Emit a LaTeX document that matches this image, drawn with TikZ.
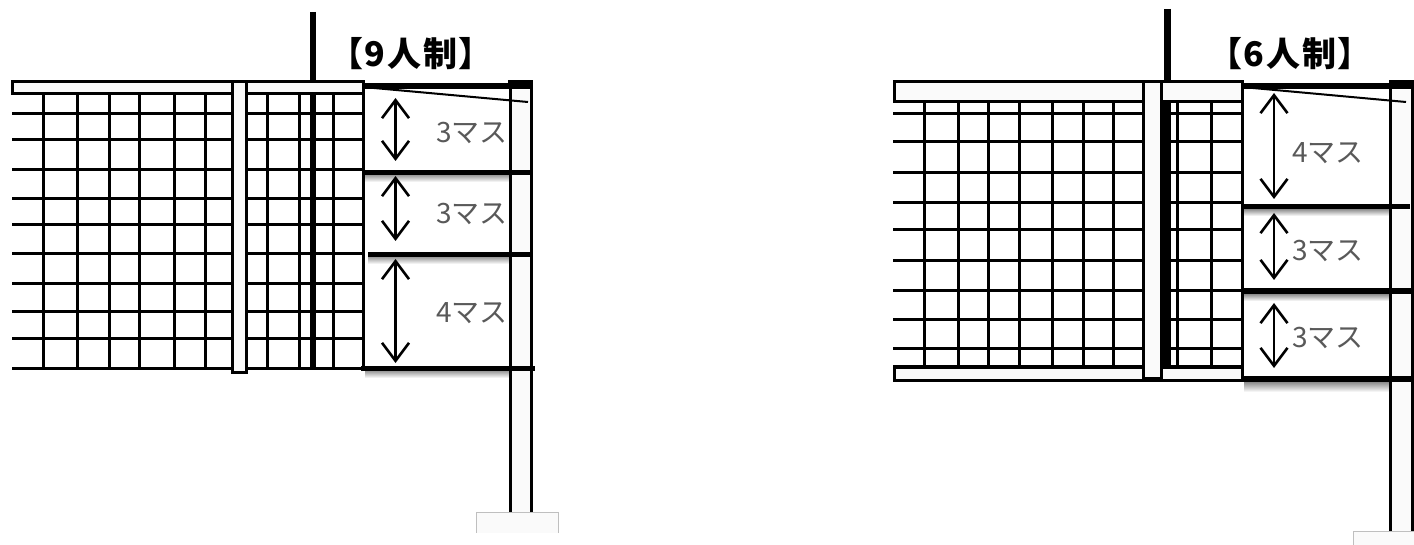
\documentclass[tikz,border=0pt]{standalone}
\usepackage{fontspec}
\newfontfamily\cjk{Noto Sans CJK JP}
\newfontfamily\cjkhead[LetterSpace=5]{Noto Sans CJK JP}
\usetikzlibrary{arrows.meta}
\definecolor{palefill}{HTML}{FAFAFA}
\tikzset{
    netline/.style={line width=3pt, black},
    thickline/.style={line width=5.5pt, black},
    palebox/.style={draw=black, line width=3pt, fill=palefill},
    gauge/.style={line width=2.6pt, <->, >={Straight Barb[length=18pt,width=27pt]}},
    masu/.style={font=\cjk\fontsize{28}{28}\selectfont, text=black!65, inner sep=0pt},
    heading/.style={font=\cjkhead\bfseries\fontsize{34}{34}\selectfont, inner sep=0pt},
    stand/.style={draw=black!25, line width=1pt, fill=palefill},
    shadowbar/.style={draw=none, top color=black!45, bottom color=white}
}
\begin{document}
\begin{tikzpicture}[x=1pt,y=-1pt]
    \useasboundingbox (0,0) rectangle (1414,545);
    % 9 players, left
    \fill[palefill] (511,90) rectangle (532,512);
    \draw[stand] (558,533) -- (558,512) -- (476,512) -- (476,533);
    \fill[palefill] (477,513) rectangle (558,533);
    \foreach \y in {114,140,170,199,225,254,284,312,339,368}
        \draw[netline] (12,\y) -- (363,\y);
    \foreach \x in {43,77,109,139,174,205,267,299,333}
        \draw[netline] (\x,94) -- (\x,368);
    \draw[line width=6pt] (313,12) -- (313,81);
    \draw[line width=6pt] (313,94) -- (313,368);
    \draw[palebox] (12,82) rectangle (363,94);
    \draw[palebox] (232,82) rectangle (246,372);
    % side band
    \shade[shadowbar] (365,174) rectangle (510,182);
    \shade[shadowbar] (368,256) rectangle (510,264);
    \shade[shadowbar] (365,370) rectangle (510,378);
    \draw[netline] (363,82) -- (363,368);
    \draw[netline] (510,82) -- (510,512);
    \draw[netline] (531,82) -- (531,512);
    \draw[line width=2pt] (363,87) -- (528,102);
    \draw[thickline] (363,86) -- (532,86);
    \draw[thickline] (363,172.5) -- (532,172.5);
    \draw[thickline] (368,254.5) -- (532,254.5);
    \draw[thickline] (361,368.5) -- (535,368.5);
    \fill (508,80) rectangle (533,88);
    \draw[gauge] (395.5,98) -- (395.5,161);
    \draw[gauge] (395.5,176) -- (395.5,241);
    \draw[gauge] (395.5,259) -- (395.5,363);
    \node[heading] (title9) at (411,54) {【9人制】};
    \node[masu] (upper9) at (472,133) {3マス};
    \node[masu] (middle9) at (472,214) {3マス};
    \node[masu] (lower9) at (472,313) {4マス};
    % 6 players, right
    \fill[palefill] (1390,90) rectangle (1412,531);
    \draw[stand] (1353,545) -- (1353,531) -- (1414,531);
    \fill[palefill] (1354,532) rectangle (1414,545);
    \foreach \y in {114,142,173,203,230,261,291,320,349}
        \draw[netline] (893,\y) -- (1242,\y);
    \foreach \x in {924,958,988,1019,1052,1083,1113,1177,1211}
        \draw[netline] (\x,102) -- (\x,367);
    \draw[line width=7pt] (1167,9) -- (1167,81);
    \draw[line width=10pt] (1166,102) -- (1166,367);
    \draw[palebox] (894,82) rectangle (1242,102);
    \draw[palebox] (894,367) rectangle (1242,380);
    \draw[palebox] (1143,82) rectangle (1161,378);
    % side band
    \shade[shadowbar] (1244,209) rectangle (1390,216);
    \shade[shadowbar] (1244,294) rectangle (1390,301);
    \shade[shadowbar] (1244,382) rectangle (1390,392);
    \draw[netline] (1242,82) -- (1242,380);
    \draw[netline] (1390,82) -- (1390,531);
    \draw[netline] (1412,82) -- (1412,531);
    \draw[line width=2pt] (1242,87) -- (1406,102);
    \draw[thickline] (1242,86) -- (1414,86);
    \draw[thickline] (1242,206.5) -- (1410,206.5);
    \draw[thickline] (1242,291) -- (1414,291);
    \draw[thickline] (1242,379) -- (1414,379);
    \fill (1389,80) rectangle (1414,88);
    \draw[gauge] (1274,93) -- (1274,199);
    \draw[gauge] (1274,213) -- (1274,280);
    \draw[gauge] (1274,303) -- (1274,368);
    \node[heading] (title6) at (1290,54) {【6人制】};
    \node[masu] (upper6) at (1328,153) {4マス};
    \node[masu] (middle6) at (1328,251) {3マス};
    \node[masu] (lower6) at (1328,338) {3マス};
\end{tikzpicture}
\end{document}
